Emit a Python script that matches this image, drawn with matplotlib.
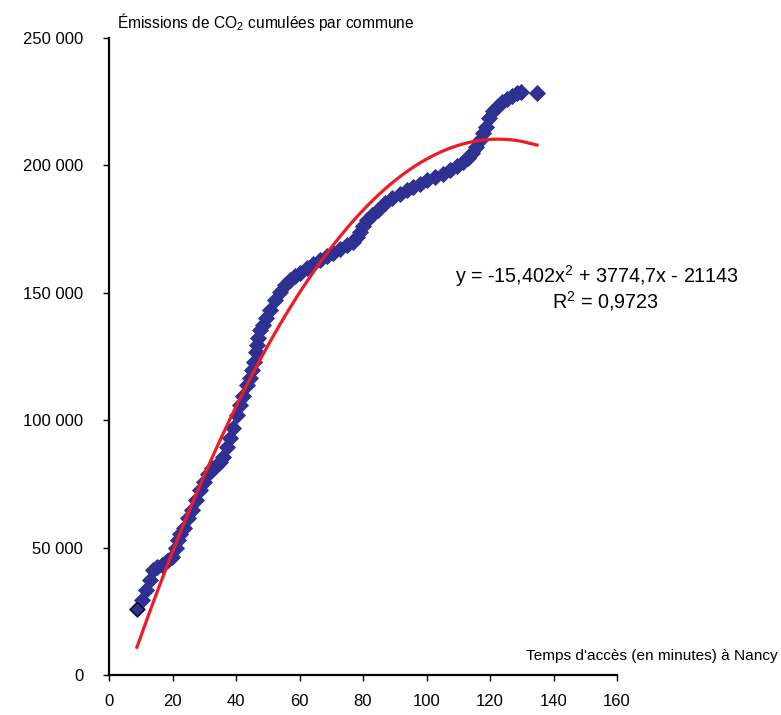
import numpy as np
import matplotlib
matplotlib.use("Agg")
import matplotlib.pyplot as plt
from matplotlib.ticker import FuncFormatter

plt.rcParams['font.family'] = ['Liberation Sans', 'DejaVu Sans']
plt.rcParams['mathtext.fontset'] = 'custom'
plt.rcParams['mathtext.rm'] = 'Liberation Sans'
plt.rcParams['mathtext.it'] = 'Liberation Sans'

# temps d'acces (minutes) et emissions cumulees
temps = [8.8, 10.4, 11.7, 12.9, 13.9, 15.1, 16.7, 18.3, 19.8, 21.1,
         21.7, 22.4, 23.6, 24.9, 26.1, 27.4, 28.7, 29.9, 31.2, 32.4,
         33.7, 35.0, 35.9, 37.2, 38.1, 39.1, 40.3, 41.3, 42.2, 43.5,
         44.4, 45.0, 45.7, 46.3, 46.6, 46.9, 47.6, 48.5, 49.4, 50.7,
         52.3, 53.9, 55.4, 57.0, 58.6, 60.2, 62.4, 64.3, 66.5, 68.7,
         70.6, 72.8, 75.0, 76.9, 78.1, 79.1, 80.0, 81.3, 82.8, 84.7,
         86.9, 89.1, 91.7, 93.9, 95.7, 98.0, 100.2, 102.7, 105.2, 107.4,
         109.6, 111.5, 113.1, 114.3, 115.6, 116.9, 117.8, 118.7, 119.7, 120.9,
         122.2, 123.8, 125.4, 126.9, 128.5, 129.8, 134.8]
emissions = [25900, 29400, 33300, 37300, 41200, 42400, 43100, 44700, 46300, 49800,
             52900, 55300, 57700, 61600, 64700, 68600, 72600, 75700, 78800, 81200,
             82000, 83500, 85500, 89400, 93000, 96900, 102000, 105900, 109400, 113700,
             116500, 119600, 122800, 126700, 129400, 132200, 135300, 137300, 140000, 143200,
             147100, 150200, 153000, 154900, 156500, 157700, 159600, 161200, 162800, 164300,
             165500, 167100, 168600, 169800, 171800, 173700, 176100, 178500, 180400, 182400,
             185100, 187100, 188600, 190200, 191400, 192600, 194100, 195300, 196500, 198100,
             199600, 201200, 202800, 204700, 207100, 209800, 212600, 214900, 218500, 221200,
             222800, 224700, 225900, 227100, 228300, 228700, 228300]

# courbe de tendance polynomiale (coefficients affiches sur le graphique)
coef_tendance = [-15.402, 3774.7, -21143]
equation = "y = -15,402x$^2$ + 3774,7x - 21143"
r2_texte = "R$^2$ = 0,9723"

x_ticks = [0, 20, 40, 60, 80, 100, 120, 140, 160]
y_ticks = [0, 50000, 100000, 150000, 200000, 250000]

navy = '#2E3192'
rouge = '#ED1C24'

fig = plt.figure(figsize=(7.81, 7.15), dpi=100)
ax = fig.add_axes([109 / 781, 1 - 675 / 715, (617 - 109) / 781, (675 - 37.5) / 715])

x = np.array(temps)
y = np.array(emissions)
ax.plot(x, y, linestyle='none', marker='D', markersize=8, color=navy,
        markeredgecolor=navy, markeredgewidth=0.6, zorder=2)
ax.plot(x[:1], y[:1], linestyle='none', marker='D', markersize=7.5, color=navy,
        markeredgecolor='black', markeredgewidth=0.8, zorder=2)
ax.plot(x, np.polyval(coef_tendance, x), color=rouge, linewidth=2.3, zorder=3)

ax.set_xlim(0, 160)
ax.set_ylim(0, 250000)
ax.set_xticks(x_ticks)
ax.set_yticks(y_ticks)
ax.yaxis.set_major_formatter(FuncFormatter(lambda v, p: "{:,}".format(int(v)).replace(",", " ")))

for s in ['top', 'right']:
    ax.spines[s].set_visible(False)
for s in ['left', 'bottom']:
    ax.spines[s].set_linewidth(1.6)
ax.tick_params(axis='x', direction='out', length=4.5, width=1, pad=9, labelsize=12)
ax.tick_params(axis='y', direction='out', length=4.5, width=1, pad=14, labelsize=12)

fig.text(117 / 781, 1 - 22 / 715, "Émissions de CO$_2$ cumulées par commune",
         fontsize=11.2, va='center', ha='left')
fig.text(778 / 781, 1 - 656 / 715, "Temps d'accès (en minutes) à Nancy",
         fontsize=11.1, va='center', ha='right')
fig.text(597 / 781, 1 - 276 / 715, equation, fontsize=14.2, va='center', ha='center')
fig.text(605 / 781, 1 - 301 / 715, r2_texte, fontsize=14.2, va='center', ha='center')

fig.savefig("out.png", dpi=100)
